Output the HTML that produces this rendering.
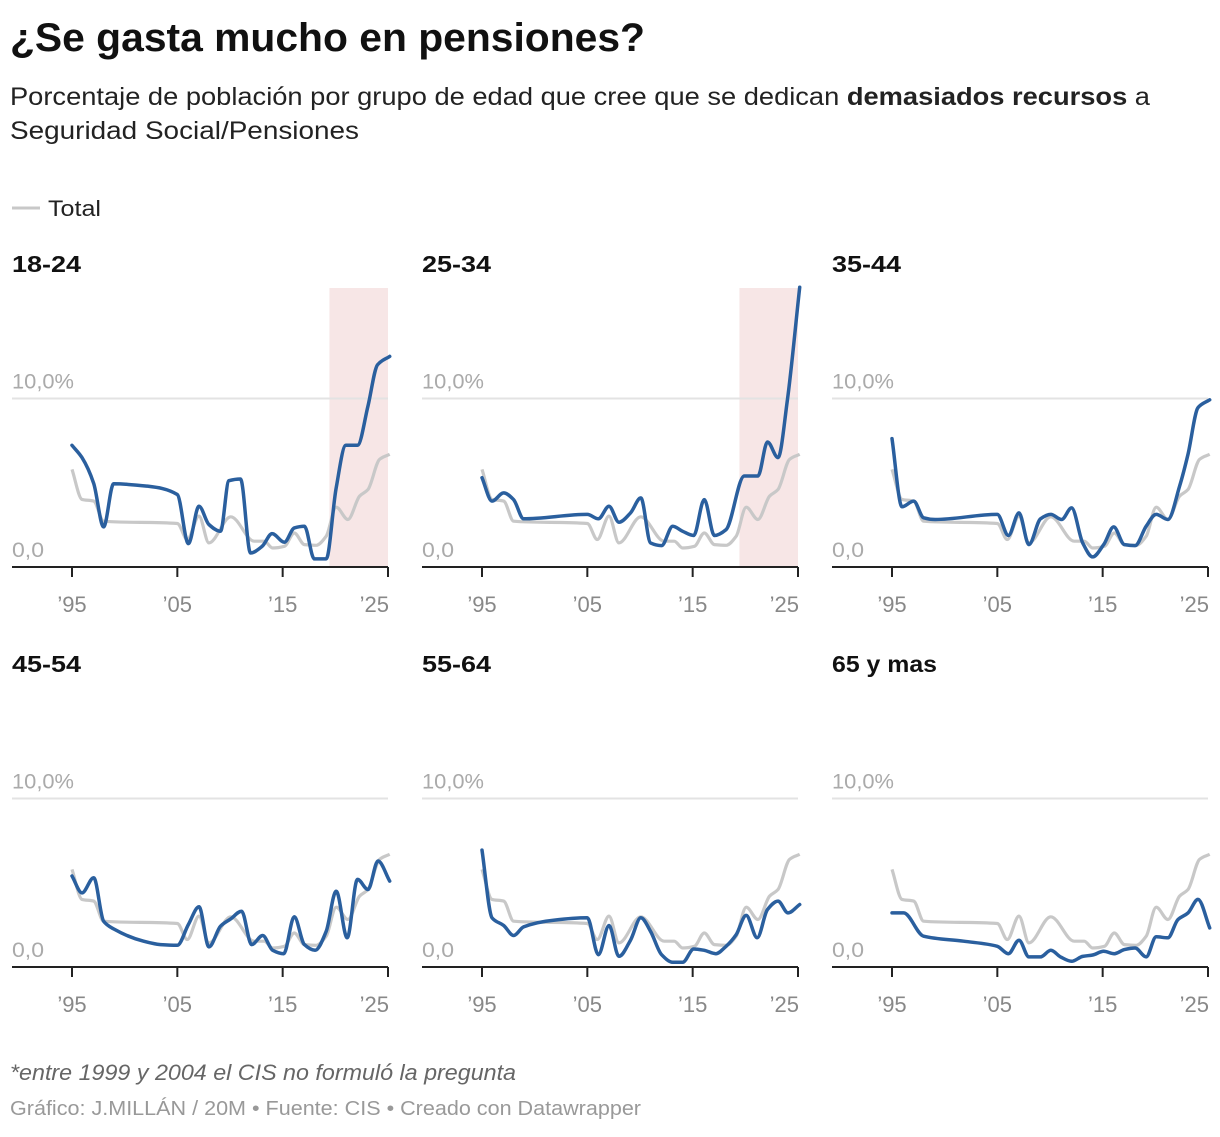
<!DOCTYPE html>
<html><head><meta charset="utf-8">
<style>
body{margin:0;background:#fff;font-family:"Liberation Sans",sans-serif;}
svg text{font-family:"Liberation Sans",sans-serif;}
</style></head>
<body>
<svg id="chart" width="1220" height="1132" viewBox="0 0 1220 1132" xmlns="http://www.w3.org/2000/svg">
<text x="10" y="51" font-size="40" font-weight="bold" fill="#111" textLength="635" lengthAdjust="spacingAndGlyphs">¿Se gasta mucho en pensiones?</text>
<text x="10" y="105" font-size="25" fill="#222" textLength="1140" lengthAdjust="spacingAndGlyphs">Porcentaje de población por grupo de edad que cree que se dedican <tspan font-weight="bold">demasiados recursos</tspan> a</text>
<text x="10" y="139" font-size="25" fill="#222" textLength="349" lengthAdjust="spacingAndGlyphs">Seguridad Social/Pensiones</text>
<g>
<line x1="12" y1="208" x2="40" y2="208" stroke="#c8c8c8" stroke-width="3"/>
<text x="48" y="216" font-size="22" fill="#222" textLength="53" lengthAdjust="spacingAndGlyphs">Total</text>
</g>
<g id="panels"></g>
<text x="10" y="1080" font-size="22" font-style="italic" fill="#666" textLength="506" lengthAdjust="spacingAndGlyphs">*entre 1999 y 2004 el CIS no formuló la pregunta</text>
<text x="10" y="1115" font-size="20" fill="#999" textLength="631" lengthAdjust="spacingAndGlyphs">Gráfico: J.MILLÁN / 20M • Fuente: CIS • Creado con Datawrapper</text>
</svg>
<script>
const totalYears=[1995,1995.95,1997.06,1998,2005,2005.95,2007.06,2008,2010.08,2012.3,2013.25,2014.05,2015.16,2016.1,2017.06,2018.17,2019.13,2020.08,2021.19,2022.3,2023.1,2024.2,2025.16];
const totalValues=[5.79,4.01,3.91,2.72,2.58,1.63,3.02,1.43,2.98,1.53,1.53,1.13,1.23,2.02,1.33,1.29,1.83,3.55,2.82,4.21,4.6,6.39,6.69];
const groupNames=["18-24","25-34","35-44","45-54","55-64","65 y mas"];
const years1824=[1995,1995.95,1997.06,1998,1998.95,2002.1,2005,2006.05,2007.06,2008,2009.1,2009.9,2011,2011.95,2013.06,2014,2015.16,2016.1,2017.06,2018,2019.13,2020.08,2021,2022.1,2023.1,2024,2025.16];
const values1824=[7.22,6.49,4.96,2.38,4.94,4.8,4.3,1.39,3.61,2.52,2.12,5.12,5.22,0.83,1.23,1.98,1.47,2.32,2.42,0.48,0.48,4.7,7.22,7.22,9.56,12.0,12.5];
const years2534=[1995,1995.95,1997.06,1998,1998.95,2005,2006.05,2007.06,2008,2009.1,2010.08,2011,2012.05,2013.1,2014.05,2015.1,2016.1,2017.06,2018.17,2019.9,2021.19,2022.1,2023.1,2024,2025.16];
const values2534=[5.3,3.91,4.4,4.0,2.86,3.12,2.86,3.61,2.66,3.21,4.1,1.43,1.27,2.42,2.12,1.87,4.0,1.87,2.22,5.4,5.4,7.42,6.49,9.96,16.6];
const years3544=[1995,1995.95,1997.06,1998,1999.1,2005,2006.05,2007.06,2008,2009.1,2010.08,2011.1,2012.05,2013.1,2014.05,2015.1,2016.05,2017.06,2018.08,2019.13,2020.08,2021.19,2022.3,2023.1,2024.05,2025.16];
const values3544=[7.62,3.57,3.91,2.92,2.82,3.12,1.87,3.21,1.33,2.86,3.12,2.82,3.51,1.43,0.6,1.33,2.38,1.33,1.27,2.42,3.12,2.82,4.8,6.69,9.46,9.92];
const years4554=[1995,1995.95,1997.06,1998,1998.95,2001.8,2003.4,2005,2006.05,2007.06,2008,2009.1,2010.08,2011.1,2012.05,2013.1,2014.05,2015.1,2016.1,2017.06,2018.08,2019.13,2020.08,2021.13,2022.1,2023.1,2024.05,2025.16];
const values4554=[5.4,4.4,5.3,2.72,2.26,1.53,1.33,1.29,2.52,3.57,1.19,2.42,2.86,3.31,1.33,1.87,0.99,0.79,2.98,1.33,0.99,2.12,4.5,1.73,5.2,4.6,6.29,5.1];
const years5564=[1995,1995.95,1997.06,1998,1998.95,2001.8,2005,2006.05,2007.06,2008,2009.1,2010.08,2011,2012.05,2013.1,2014.05,2015.1,2016.1,2017.2,2018.17,2019.13,2020.08,2021.13,2022.1,2023.1,2024.05,2025.16];
const values5564=[6.94,2.92,2.46,1.87,2.38,2.78,2.92,0.73,2.46,0.63,1.59,2.92,2.12,0.73,0.28,0.28,1.07,0.99,0.79,1.23,1.92,3.06,1.73,3.41,3.91,3.21,3.71];
const years65=[1995,1996.1,1998,2001.8,2005,2006.05,2007.06,2008,2009.1,2010.08,2011,2012.05,2013.1,2014.05,2015.1,2016.1,2017.06,2018.08,2019.13,2020.08,2021.19,2022.15,2023.1,2024.05,2025.16];
const values65=[3.21,3.21,1.83,1.53,1.23,0.79,1.59,0.6,0.6,0.99,0.6,0.34,0.63,0.71,0.93,0.79,1.03,1.13,0.6,1.79,1.73,2.82,3.21,4.01,2.32];
const groupYears=[years1824,years2534,years3544,years4554,years5564,years65];
const groupValues=[values1824,values2534,values3544,values4554,values5564,values65];
const highlightStart=[2019.44,2019.44,null,null,null,null];
const xTickYears=[1995,2005,2015,2025];
const xTickLabels=["’95","’05","’15","’25"];
const yTicks=[0,10];
const yTickLabels=["0,0","10,0%"];

const NS="http://www.w3.org/2000/svg";
const root=document.getElementById('panels');
function el(tag,attrs,parent){const e=document.createElementNS(NS,tag);for(const k in attrs)e.setAttribute(k,attrs[k]);parent.appendChild(e);return e;}
function monotonePath(pts){
  const n=pts.length;if(n<2)return '';
  const dx=[],m=[],t=[];
  for(let i=0;i<n-1;i++){dx[i]=pts[i+1][0]-pts[i][0];m[i]=(pts[i+1][1]-pts[i][1])/dx[i];}
  t[0]=m[0];t[n-1]=m[n-2];
  for(let i=1;i<n-1;i++){
    if(m[i-1]*m[i]<=0)t[i]=0;
    else{const w1=2*dx[i]+dx[i-1],w2=dx[i]+2*dx[i-1];t[i]=(w1+w2)/(w1/m[i-1]+w2/m[i]);}
  }
  let d='M'+pts[0][0].toFixed(1)+','+pts[0][1].toFixed(1);
  for(let i=0;i<n-1;i++){
    const h=dx[i]/3;
    d+='C'+(pts[i][0]+h).toFixed(1)+','+(pts[i][1]+h*t[i]).toFixed(1)+' '+(pts[i+1][0]-h).toFixed(1)+','+(pts[i+1][1]-h*t[i+1]).toFixed(1)+' '+pts[i+1][0].toFixed(1)+','+pts[i+1][1].toFixed(1);
  }
  return d;
}
const titleWidths=[69,69,69,69,69,105];
for(let g=0;g<6;g++){
  const ox=(g%3)*410, oy=Math.floor(g/3)*400;
  const left=12+ox, right=388+ox;
  const x=yr=>72+ox+(yr-1995)*(316/30);
  const y=v=>567+oy-v*16.85;
  const pg=el('g',{},root);
  
  
  const t=el('text',{x:left,y:272+oy,'font-size':23,'font-weight':'bold',fill:'#111',textLength:titleWidths[g],lengthAdjust:'spacingAndGlyphs'},pg);
  t.textContent=groupNames[g];
  
  
  if(highlightStart[g]!==null){
    const r=el('rect',{x:x(highlightStart[g]),y:288+oy,width:right-x(highlightStart[g]),height:279,fill:'#f7e6e6'},pg);
    
    
  }
  for(let i=0;i<yTicks.length;i++){
    if(yTicks[i]>0){
      const gl=el('line',{x1:left,x2:right,y1:y(yTicks[i]),y2:y(yTicks[i]),stroke:'#e3e3e3','stroke-width':2},pg);
      
      
    }
    const lt=el('text',{x:left,y:y(yTicks[i])-10,'font-size':21,fill:'#aaa',textLength:yTicks[i]>0?62:32,lengthAdjust:'spacingAndGlyphs'},pg);
    lt.textContent=yTickLabels[i];
    
    
  }
  const ax=el('line',{x1:left,x2:right,y1:567+oy,y2:567+oy,stroke:'#222','stroke-width':2},pg);
  
  
  for(let i=0;i<xTickYears.length;i++){
    const tk=el('line',{x1:x(xTickYears[i]),x2:x(xTickYears[i]),y1:567+oy,y2:577+oy,stroke:'#222','stroke-width':2},pg);
    
    
    const tl=el('text',{x:x(xTickYears[i]),y:612+oy,'font-size':22,fill:'#888','text-anchor':i===xTickYears.length-1?'end':'middle'},pg);
    if(i===xTickYears.length-1)tl.setAttribute('x',right+1);
    tl.textContent=xTickLabels[i];
    
    
  }
  const tp=el('path',{d:monotonePath(totalYears.map((yr,i)=>[x(yr),y(totalValues[i])])),fill:'none',stroke:'#c8c8c8','stroke-width':3.2,'stroke-linejoin':'round'},pg);
  
  
  const bp=el('path',{d:monotonePath(groupYears[g].map((yr,i)=>[x(yr),y(groupValues[g][i])])),fill:'none',stroke:'#2a5f9e','stroke-width':3.5,'stroke-linejoin':'round','stroke-linecap':'round'},pg);
  
  
}
</script>
</body></html>
